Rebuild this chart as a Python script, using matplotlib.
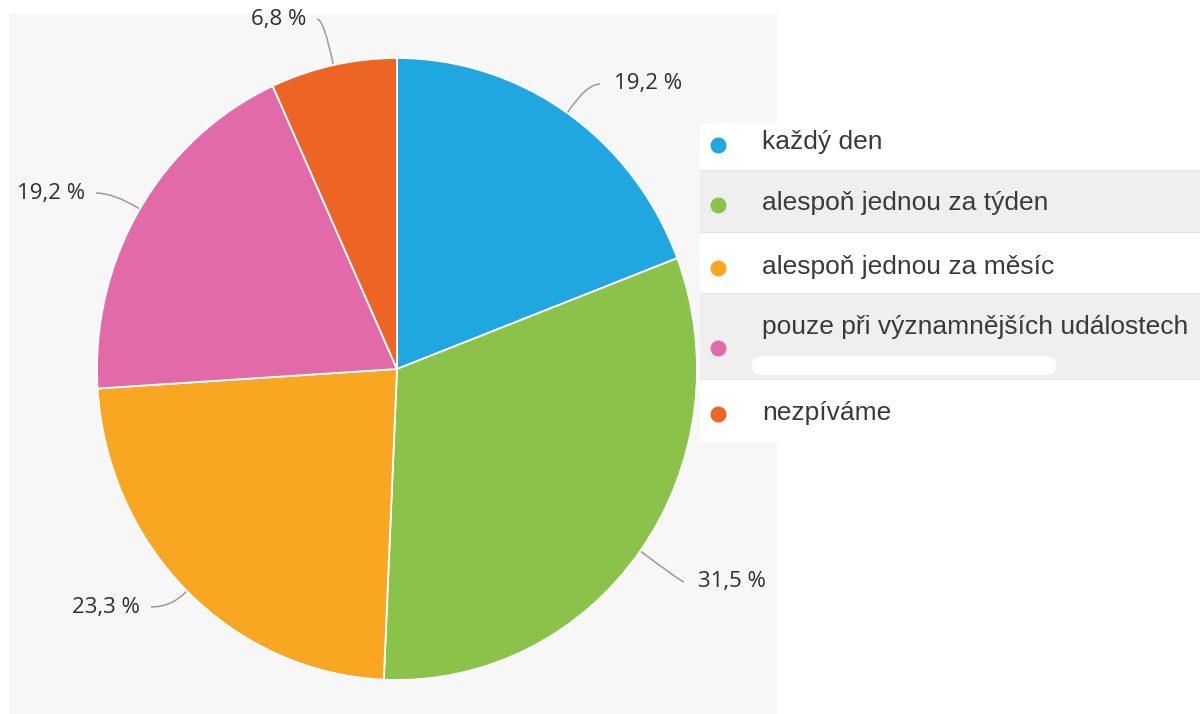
import numpy as np
import matplotlib.pyplot as plt
from matplotlib.patches import Rectangle, FancyBboxPatch, PathPatch
from matplotlib.path import Path

labels = ['každý den', 'alespoň jednou za týden', 'alespoň jednou za měsíc',
          'pouze při významnějších událostech', 'nezpíváme']
values = [19.2, 31.5, 23.3, 19.2, 6.8]
pct_text = ['19,2 %', '31,5 %', '23,3 %', '19,2 %', '6,8 %']
colors = ['#20a7df', '#8bc34a', '#f9a623', '#e36aa9', '#ee6424']

# label anchor (x, y, ha) in pixel coords
label_pos = [(614, 84, 'left'), (698, 582, 'left'), (140, 607, 'right'),
             (85, 193, 'right'), (306, 19, 'right')]

W, H = 1200, 714
fig = plt.figure(figsize=(12, 7.14), dpi=100)
fig.patch.set_facecolor('white')

base = fig.add_axes([0, 0, 1, 1])
base.set_xlim(0, W)
base.set_ylim(H, 0)
base.axis('off')

# grey chart panel
base.add_patch(Rectangle((9, 14), 768, 700, facecolor='#f7f7f7', edgecolor='none', zorder=0))

# pie
cx, cy, rx, ry = 397, 369, 300, 311
pax = fig.add_axes([(cx - rx) / W, (H - cy - ry) / H, 2 * rx / W, 2 * ry / H])
pax.set_zorder(2)
pax.patch.set_visible(False)
pax.pie(values, colors=colors, startangle=90, counterclock=False,
        wedgeprops=dict(edgecolor='white', linewidth=1.3))
pax.set_aspect('auto')
pax.set_xlim(-1, 1)
pax.set_ylim(-1, 1)
pax.axis('off')

# percent labels with connectors
start = 90.0
for v, txt, (tx, ty, ha) in zip(values, pct_text, label_pos):
    mid = np.radians(start - v * 3.6 / 2)
    start -= v * 3.6
    dx, dy = np.cos(mid) * rx, -np.sin(mid) * ry
    p0 = (cx + dx, cy + dy)
    t = (ty - p0[1]) / dy if dy != 0 else 0
    ctrl = (p0[0] + dx * t, ty)
    end = (tx - 14, ty) if ha == 'left' else (tx + 11, ty)
    path = Path([p0, ctrl, end], [Path.MOVETO, Path.CURVE3, Path.CURVE3])
    base.add_patch(PathPatch(path, facecolor='none', edgecolor='#9a9a9a', lw=1.1, zorder=3))
    base.text(tx, ty, txt, ha=ha, va='center', fontsize=16, color='#2e2e2e',
              family='Open Sans', zorder=4)

# legend
rows = [(123, 170), (170, 232), (232, 293), (293, 379), (379, 442)]
row_bg = ['white', '#efefef', 'white', '#efefef', 'white']
text_y = [142, 203, 267, 327, 413]
dot_y = [145, 205, 268, 348, 414]
for (y0, y1), bg in zip(rows, row_bg):
    base.add_patch(Rectangle((700, y0), 500, y1 - y0, facecolor=bg, edgecolor='none', zorder=1))
for yb in [170, 232, 293, 379]:
    base.plot([700, 1200], [yb, yb], color='#e6e6e6', lw=0.8, zorder=1.5)
base.add_patch(FancyBboxPatch((752, 356), 304, 19, boxstyle='round,pad=0,rounding_size=9',
                              facecolor='white', edgecolor='none', zorder=1.6))
for lab, c, ty, dy in zip(labels, colors, text_y, dot_y):
    base.plot(718, dy, 'o', ms=11.5, color=c, mec='none', zorder=3)
    base.text(762, ty, lab, ha='left', va='center', fontsize=19, color='#3a3a3a',
              family='Liberation Sans', zorder=3)

fig.savefig('out.png', dpi=100)
